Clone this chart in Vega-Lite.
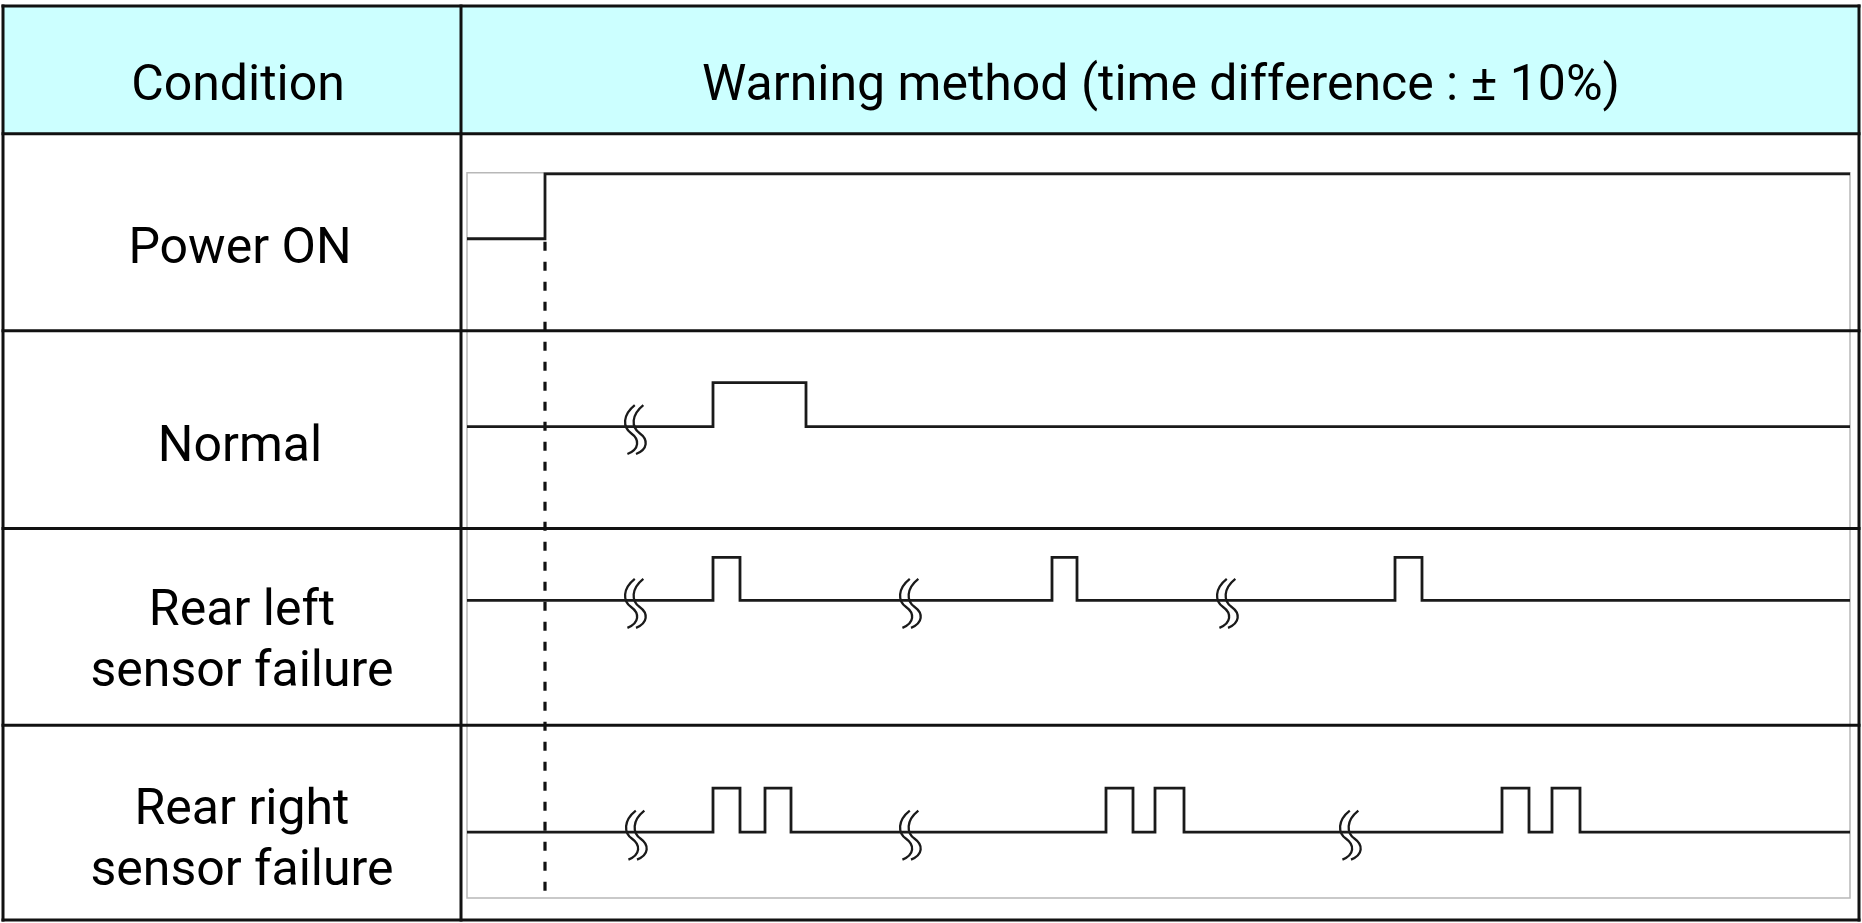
{
  "$schema": "https://vega.github.io/schema/vega-lite/v6.json",
  "width": 1862,
  "height": 923,
  "autosize": {"type": "fit", "contains": "padding"},
  "padding": 0,
  "background": "white",
  "config": {"view": {"stroke": null}},
  "layer": [
    {
      "data": {"values": [{"x": 3, "x2": 1859, "y": 6, "y2": 134}]},
      "mark": {"type": "rect", "fill": "#CCFFFF"},
      "encoding": {
        "x": {"field": "x", "type": "quantitative", "scale": {"domain": [0, 1862], "nice": false, "zero": false}, "axis": null},
        "x2": {"field": "x2"},
        "y": {"field": "y", "type": "quantitative", "scale": {"domain": [0, 923], "nice": false, "zero": false, "reverse": true}, "axis": null},
        "y2": {"field": "y2"}
      }
    },
    {
      "data": {"values": [{"x": 467, "x2": 1850, "y": 173, "y2": 899}]},
      "mark": {"type": "rect", "fillOpacity": 0, "stroke": "#b8b8b8", "strokeWidth": 1.5},
      "encoding": {
        "x": {"field": "x", "type": "quantitative", "scale": {"domain": [0, 1862], "nice": false, "zero": false}, "axis": null},
        "x2": {"field": "x2"},
        "y": {"field": "y", "type": "quantitative", "scale": {"domain": [0, 923], "nice": false, "zero": false, "reverse": true}, "axis": null},
        "y2": {"field": "y2"}
      }
    },
    {
      "data": {"values": [
        {"x": 3, "x2": 1859, "y": 6, "y2": 6},
        {"x": 3, "x2": 1859, "y": 921, "y2": 921},
        {"x": 3, "x2": 3, "y": 6, "y2": 921},
        {"x": 1859, "x2": 1859, "y": 6, "y2": 921},
        {"x": 461, "x2": 461, "y": 6, "y2": 921},
        {"x": 3, "x2": 1859, "y": 134, "y2": 134},
        {"x": 3, "x2": 1859, "y": 331, "y2": 331},
        {"x": 3, "x2": 1859, "y": 529, "y2": 529},
        {"x": 3, "x2": 1859, "y": 726, "y2": 726}
      ]},
      "mark": {"type": "rule", "stroke": "#111111", "strokeWidth": 3, "strokeCap": "square"},
      "encoding": {
        "x": {"field": "x", "type": "quantitative", "scale": {"domain": [0, 1862], "nice": false, "zero": false}, "axis": null},
        "x2": {"field": "x2"},
        "y": {"field": "y", "type": "quantitative", "scale": {"domain": [0, 923], "nice": false, "zero": false, "reverse": true}, "axis": null},
        "y2": {"field": "y2"}
      }
    },
    {
      "data": {"values": [{"x": 545, "x2": 545, "y": 242, "y2": 899}]},
      "mark": {"type": "rule", "stroke": "#111111", "strokeWidth": 3.2, "strokeDash": [9, 11]},
      "encoding": {
        "x": {"field": "x", "type": "quantitative", "scale": {"domain": [0, 1862], "nice": false, "zero": false}, "axis": null},
        "x2": {"field": "x2"},
        "y": {"field": "y", "type": "quantitative", "scale": {"domain": [0, 923], "nice": false, "zero": false, "reverse": true}, "axis": null},
        "y2": {"field": "y2"}
      }
    },
    {
      "data": {"values": [
        {"s": "power", "i": 1, "x": 467, "y": 239},
        {"s": "power", "i": 2, "x": 545, "y": 239},
        {"s": "power", "i": 3, "x": 545, "y": 174},
        {"s": "power", "i": 4, "x": 1850, "y": 174},

        {"s": "normal", "i": 1, "x": 467, "y": 427},
        {"s": "normal", "i": 2, "x": 713, "y": 427},
        {"s": "normal", "i": 3, "x": 713, "y": 383},
        {"s": "normal", "i": 4, "x": 806, "y": 383},
        {"s": "normal", "i": 5, "x": 806, "y": 427},
        {"s": "normal", "i": 6, "x": 1850, "y": 427},

        {"s": "left", "i": 1, "x": 467, "y": 601},
        {"s": "left", "i": 2, "x": 713, "y": 601},
        {"s": "left", "i": 3, "x": 713, "y": 558},
        {"s": "left", "i": 4, "x": 740, "y": 558},
        {"s": "left", "i": 5, "x": 740, "y": 601},
        {"s": "left", "i": 6, "x": 1052, "y": 601},
        {"s": "left", "i": 7, "x": 1052, "y": 558},
        {"s": "left", "i": 8, "x": 1077, "y": 558},
        {"s": "left", "i": 9, "x": 1077, "y": 601},
        {"s": "left", "i": 10, "x": 1395, "y": 601},
        {"s": "left", "i": 11, "x": 1395, "y": 558},
        {"s": "left", "i": 12, "x": 1422, "y": 558},
        {"s": "left", "i": 13, "x": 1422, "y": 601},
        {"s": "left", "i": 14, "x": 1850, "y": 601},

        {"s": "right", "i": 1, "x": 467, "y": 833},
        {"s": "right", "i": 2, "x": 713, "y": 833},
        {"s": "right", "i": 3, "x": 713, "y": 789},
        {"s": "right", "i": 4, "x": 740, "y": 789},
        {"s": "right", "i": 5, "x": 740, "y": 833},
        {"s": "right", "i": 6, "x": 765, "y": 833},
        {"s": "right", "i": 7, "x": 765, "y": 789},
        {"s": "right", "i": 8, "x": 791, "y": 789},
        {"s": "right", "i": 9, "x": 791, "y": 833},
        {"s": "right", "i": 10, "x": 1106, "y": 833},
        {"s": "right", "i": 11, "x": 1106, "y": 789},
        {"s": "right", "i": 12, "x": 1133, "y": 789},
        {"s": "right", "i": 13, "x": 1133, "y": 833},
        {"s": "right", "i": 14, "x": 1155, "y": 833},
        {"s": "right", "i": 15, "x": 1155, "y": 789},
        {"s": "right", "i": 16, "x": 1184, "y": 789},
        {"s": "right", "i": 17, "x": 1184, "y": 833},
        {"s": "right", "i": 18, "x": 1502, "y": 833},
        {"s": "right", "i": 19, "x": 1502, "y": 789},
        {"s": "right", "i": 20, "x": 1529, "y": 789},
        {"s": "right", "i": 21, "x": 1529, "y": 833},
        {"s": "right", "i": 22, "x": 1552, "y": 833},
        {"s": "right", "i": 23, "x": 1552, "y": 789},
        {"s": "right", "i": 24, "x": 1580, "y": 789},
        {"s": "right", "i": 25, "x": 1580, "y": 833},
        {"s": "right", "i": 26, "x": 1850, "y": 833}
      ]},
      "mark": {"type": "line", "stroke": "#1a1a1a", "strokeWidth": 2.8, "strokeJoin": "miter"},
      "encoding": {
        "x": {"field": "x", "type": "quantitative", "scale": {"domain": [0, 1862], "nice": false, "zero": false}, "axis": null},
        "y": {"field": "y", "type": "quantitative", "scale": {"domain": [0, 923], "nice": false, "zero": false, "reverse": true}, "axis": null},
        "detail": {"field": "s", "type": "nominal"},
        "order": {"field": "i", "type": "quantitative"}
      }
    },
    {
      "data": {"values": [
        {"x": 636, "y": 430},
        {"x": 636, "y": 604},
        {"x": 911, "y": 604},
        {"x": 1228, "y": 604},
        {"x": 637, "y": 836},
        {"x": 911, "y": 836},
        {"x": 1351, "y": 836}
      ]},
      "mark": {
        "type": "point",
        "shape": "M -0.05 -1 C -0.55 -0.6 -0.55 -0.1 -0.2 0.15 C 0.15 0.4 0.15 0.8 -0.35 1 M 0.3 -1 C -0.2 -0.6 -0.2 -0.1 0.15 0.15 C 0.5 0.4 0.5 0.8 0 1",
        "filled": false,
        "stroke": "#1a1a1a",
        "strokeWidth": 2.3,
        "size": 2400,
        "opacity": 1
      },
      "encoding": {
        "x": {"field": "x", "type": "quantitative", "scale": {"domain": [0, 1862], "nice": false, "zero": false}, "axis": null},
        "y": {"field": "y", "type": "quantitative", "scale": {"domain": [0, 923], "nice": false, "zero": false, "reverse": true}, "axis": null}
      }
    },
    {
      "data": {"values": [
        {"label": "Condition", "x": 238, "y": 100},
        {"label": "Warning method (time difference : ± 10%)", "x": 1161, "y": 100},
        {"label": "Power ON", "x": 240, "y": 263},
        {"label": "Normal", "x": 240, "y": 462},
        {"label": "Rear left\nsensor failure", "x": 242, "y": 626},
        {"label": "Rear right\nsensor failure", "x": 242, "y": 825}
      ]},
      "mark": {"type": "text", "font": "Roboto", "fontSize": 50, "align": "center", "baseline": "alphabetic", "lineBreak": "\n", "lineHeight": 61, "color": "#000000"},
      "encoding": {
        "x": {"field": "x", "type": "quantitative", "scale": {"domain": [0, 1862], "nice": false, "zero": false}, "axis": null},
        "y": {"field": "y", "type": "quantitative", "scale": {"domain": [0, 923], "nice": false, "zero": false, "reverse": true}, "axis": null},
        "text": {"field": "label"}
      }
    }
  ]
}
